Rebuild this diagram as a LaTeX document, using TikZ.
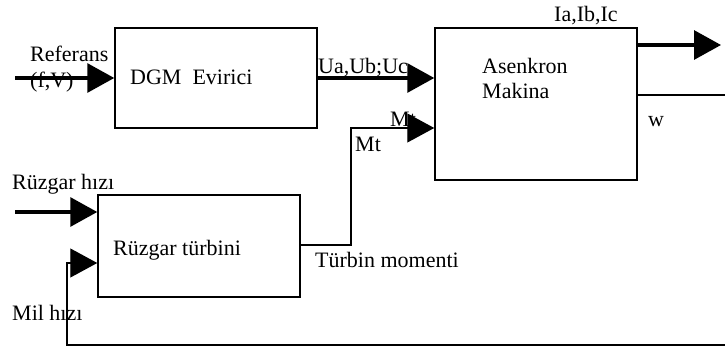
\documentclass[tikz,border=0pt]{standalone}
\usepackage{fontspec}
\setmainfont{Liberation Serif}
\usetikzlibrary{arrows.meta}
\begin{document}
\begin{tikzpicture}[x=1pt,y=-1pt,
  blockbox/.style={draw, line width=1.5pt, minimum width=202pt, inner sep=0pt},
  lbl/.style={inner sep=0pt, anchor=base west, font=\fontsize{22}{26}\selectfont},
  thinln/.style={line width=1.2pt},
  thickln/.style={line width=3.2pt},
  tip/.style={-{Triangle[length=27pt,width=29pt]}}]
\useasboundingbox (0,0) rectangle (725,347);
% blocks
\node[blockbox, minimum height=100pt] (dgm) at (216,78) {};
\node[blockbox, minimum height=152pt] (ask) at (536,104) {};
\node[blockbox, minimum height=102pt] (ruz) at (199,246) {};
% labels
\node[lbl] (t1) at (30,62) {Referans};
\node[lbl] (t2) at (30,88) {(f,V)};
\node[lbl] (t3) at (130,85) {DGM\ \ Evirici};
\node[lbl] (t4) at (318,74) {Ua,Ub;Uc};
\node[lbl] (t5) at (482,74) {Asenkron};
\node[lbl] (t6) at (482,99) {Makina};
\node[lbl] (t7) at (554,22) {Ia,Ib,Ic};
\node[lbl] (t8) at (648,127) {w};
\node[lbl] (t9) at (390,127) {Mt};
\node[lbl] (t10) at (355,152) {Mt};
\node[lbl] (t11) at (12,190) {Rüzgar hızı};
\node[lbl] (t12) at (113,255) {Rüzgar türbini};
\node[lbl] (t13) at (315,268) {Türbin momenti};
\node[lbl] (t14) at (12,320) {Mil hızı};
% free ends
\coordinate (refin) at (15,78);
\coordinate (iaout) at (721,45);
\coordinate (wout) at (725,95);
\coordinate (mtin) at (351,128);
\coordinate (tmout) at (351,245);
\coordinate (rhin) at (15,212);
\coordinate (fb) at (725,345);
\coordinate (fbc) at (67,345);
\coordinate (mhin) at (67,263);
% connectors
\draw[thickln, tip] (refin) -- (dgm.west);
\draw[thickln, tip] (dgm.east) -- (ask.west |- dgm.east);
\draw[thickln, tip] (ask.east |- iaout) -- (iaout);
\draw[thinln] (ask.east |- wout) -- (wout);
\draw[thinln, tip] (ruz.east |- tmout) -- (tmout) -- (mtin) -- (ask.west |- mtin);
\draw[thickln, tip] (rhin) -- (ruz.west |- rhin);
\draw[thinln, tip] (fb) -- (fbc) -- (mhin) -- (ruz.west |- mhin);
\end{tikzpicture}
\end{document}
